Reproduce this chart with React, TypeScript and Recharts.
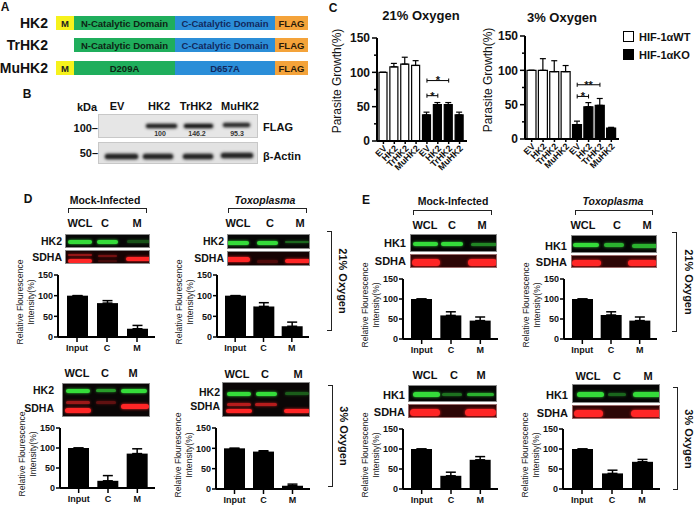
import React from 'react';
import { BarChart, Bar, XAxis, YAxis, ErrorBar, Cell, ReferenceLine } from 'recharts';

const FONT = "Arial, 'Liberation Sans', Helvetica, sans-serif";
const INK = '#111';

// ---- panel C: parasite growth (%) ----
const growthLabels = ['EV', 'HK2', 'TrHK2', 'MuHK2'];
const wt21 = [100, 108, 112, 110];
const wt21Err = [0, 5, 10, 7];
const ko21 = [38, 53, 53, 38];
const ko21Err = [4, 3, 3, 4];
const wt3 = [100, 100, 98, 98];
const wt3Err = [0, 17, 16, 9];
const ko3 = [21, 47, 49, 16];
const ko3Err = [5, 6, 10, 1];
const sig21 = [
  { from: 'EV', to: 'TrHK2', y: 88, mark: '*' },
  { from: 'EV', to: 'HK2', y: 66, mark: '*' },
];
const sig3 = [
  { from: 'EV', to: 'TrHK2', y: 79, mark: '**' },
  { from: 'EV', to: 'HK2', y: 62, mark: '*' },
];
const growthTicks = [0, 25, 50, 75, 100, 125, 150];
const growthLabelled = [0, 50, 100, 150];

// ---- panels D / E: relative fluorescence (%) ----
const fractions = ['Input', 'C', 'M'];
const fracTicks = [0, 50, 100, 150];
const dMock21 = [100, 82, 20];
const dMock21Err = [0, 6, 8];
const dToxo21 = [100, 74, 26];
const dToxo21Err = [0, 9, 10];
const dMock3 = [100, 18, 86];
const dMock3Err = [0, 13, 12];
const dToxo3 = [100, 92, 8];
const dToxo3Err = [0, 2, 4];
const eMock21 = [100, 59, 46];
const eMock21Err = [0, 9, 9];
const eToxo21 = [100, 60, 46];
const eToxo21Err = [0, 8, 9];
const eMock3 = [100, 33, 73];
const eMock3Err = [0, 9, 8];
const eToxo3 = [100, 39, 68];
const eToxo3Err = [0, 8, 6];

const AX = { stroke: '#000', strokeWidth: 2 };
const TL = { stroke: '#000', strokeWidth: 1.5 };

function Txt({ x, y, children, size = 11, weight = 700, align = 'center', italic = false, rotate = 0, color = INK, lh = 1 }: any) {
  const tx = align === 'center' ? '-50%' : align === 'right' ? '-100%' : '0';
  return (
    <div
      style={{
        position: 'absolute',
        left: x,
        top: y,
        transform: `translate(${tx},-50%)${rotate ? ` rotate(${rotate}deg)` : ''}`,
        fontSize: size,
        fontWeight: weight,
        fontStyle: italic ? 'italic' : 'normal',
        color,
        whiteSpace: 'nowrap',
        lineHeight: lh,
        textAlign: 'center',
      }}
    >
      {children}
    </div>
  );
}

type Band = { c: number; w: number; y: number; a: number; t: number; col?: string };
const GREEN = '#35dc3a';
const RED = '#ff2626';

function Blot({ x, y, w, h, bg, color, bands, border = '1px solid #8a8a8a', blur = 0.7 }: any) {
  return (
    <div style={{ position: 'absolute', left: x, top: y, width: w, height: h, background: bg, border, boxSizing: 'border-box', overflow: 'hidden' }}>
      {bands.map((b: Band, i: number) => {
        const col = b.col || color;
        return (
          <div
            key={i}
            style={{
              position: 'absolute',
              left: (b.c - b.w / 2) * w,
              width: b.w * w,
              top: b.y * h - b.t / 2,
              height: b.t,
              background: col,
              opacity: b.a,
              borderRadius: b.t,
              filter: `blur(${blur}px)`,
              boxShadow: `0 0 3px ${col}`,
            }}
          />
        );
      })}
    </div>
  );
}

// ---------- panel C chart ----------
type GrowthRow = { key: string; value: number; err: [number, number]; ko: boolean };

function buildGrowth(wt: number[], wtErr: number[], ko: number[], koErr: number[]): GrowthRow[] {
  const rows: GrowthRow[] = [];
  growthLabels.forEach((l, i) => rows.push({ key: `${l}|WT`, value: wt[i], err: [0, wtErr[i]], ko: false }));
  growthLabels.forEach((l, i) => rows.push({ key: `${l}|KO`, value: ko[i], err: [0, koErr[i]], ko: true }));
  return rows;
}

const GrowthTick = (props: any) => {
  const { x, y, payload } = props;
  const label = String(payload.value).split('|')[0];
  const ax = x + 4;
  const ay = y + 3;
  return (
    <text x={ax} y={ay} transform={`rotate(-45 ${ax} ${ay})`} textAnchor="end" fontSize={9} fontWeight={700} fill={INK} fontFamily={FONT}>
      {label}
    </text>
  );
};

// y tick with short minor marks between the labelled ones
const GrowthYTick = (props: any) => {
  const { x, y, payload } = props;
  const major = growthLabelled.includes(payload.value);
  const ax = x + 6; // axis line position (tickSize 4 + tickMargin 2)
  return (
    <g>
      <line x1={ax - (major ? 5 : 3)} x2={ax} y1={y} y2={y} stroke="#000" strokeWidth={1.5} />
      {major && (
        <text x={ax - 7} y={y} dy="0.36em" textAnchor="end" fontSize={12} fontWeight={700} fill={INK} fontFamily={FONT}>
          {payload.value}
        </text>
      )}
    </g>
  );
};

function GrowthChart({ axisX, plotTop, plotBottom, plotRight, rows, sig, barSize }: any) {
  const yW = 34;
  const mt = 6;
  const mr = 4;
  const xH = 44;
  const plotW = plotRight - axisX;
  const plotH = plotBottom - plotTop;
  const lines: any[] = [];
  sig.forEach((s: any, i: number) => {
    const a = `${s.from}|KO`;
    const b = `${s.to}|KO`;
    lines.push(
      <ReferenceLine
        key={`h${i}`}
        segment={[{ x: a, y: s.y }, { x: b, y: s.y }]}
        stroke="#000"
        strokeWidth={1}
        ifOverflow="visible"
        label={{ value: s.mark, position: 'center', fontSize: 11, fontWeight: 700, fill: INK }}
      />,
      <ReferenceLine key={`l${i}`} segment={[{ x: a, y: s.y - 3 }, { x: a, y: s.y + 3 }]} stroke="#000" strokeWidth={1} ifOverflow="visible" />,
      <ReferenceLine key={`r${i}`} segment={[{ x: b, y: s.y - 3 }, { x: b, y: s.y + 3 }]} stroke="#000" strokeWidth={1} ifOverflow="visible" />
    );
  });
  return (
    <div style={{ position: 'absolute', left: axisX - yW, top: plotTop - mt }}>
      <BarChart width={yW + plotW + mr} height={mt + plotH + xH} data={rows} margin={{ top: mt, right: mr, bottom: 0, left: 0 }}>
        <XAxis dataKey="key" interval={0} tick={<GrowthTick />} tickSize={3} height={xH} axisLine={AX} tickLine={TL} padding={{ left: 1, right: 2 }} />
        <YAxis
          type="number"
          domain={[0, 150]}
          ticks={growthTicks}
          interval={0}
          width={yW}
          tickSize={4}
          tickMargin={2}
          axisLine={AX}
          tickLine={false}
          tick={<GrowthYTick />}
        />
        <Bar dataKey="value" barSize={barSize} stroke="#000" strokeWidth={1.2} isAnimationActive={false}>
          {rows.map((r: GrowthRow) => (
            <Cell key={r.key} fill={r.ko ? '#000' : '#fff'} />
          ))}
          <ErrorBar dataKey="err" width={3} stroke="#000" strokeWidth={1.2} direction="y" isAnimationActive={false} />
        </Bar>
        {lines}
      </BarChart>
    </div>
  );
}

// ---------- panels D / E chart ----------
function FracChart({ axisX, plotTop, plotBottom, plotRight, values, errs }: any) {
  const yW = 26;
  const mt = 6;
  const mr = 3;
  const xH = 22;
  const plotW = plotRight - axisX;
  const plotH = plotBottom - plotTop;
  const rows = fractions.map((f, i) => ({ name: f, value: values[i], err: [0, errs[i]] }));
  return (
    <>
      <div style={{ position: 'absolute', left: axisX - yW, top: plotTop - mt }}>
        <BarChart width={yW + plotW + mr} height={mt + plotH + xH} data={rows} margin={{ top: mt, right: mr, bottom: 0, left: 0 }}>
          <XAxis
            dataKey="name"
            interval={0}
            tickSize={5}
            tickMargin={3}
            height={xH}
            padding={{ left: 4, right: 3 }}
            axisLine={AX}
            tickLine={TL}
            tick={{ fontSize: 9, fontWeight: 700, fill: INK, fontFamily: FONT }}
          />
          <YAxis
            type="number"
            domain={[0, 150]}
            ticks={fracTicks}
            interval={0}
            width={yW}
            tickSize={4}
            tickMargin={1}
            axisLine={AX}
            tickLine={TL}
            tick={{ fontSize: 9, fontWeight: 700, fill: INK, fontFamily: FONT }}
          />
          <Bar dataKey="value" fill="#000" barSize={21} isAnimationActive={false}>
            <ErrorBar dataKey="err" width={5} stroke="#000" strokeWidth={1.5} direction="y" isAnimationActive={false} />
          </Bar>
        </BarChart>
      </div>
      <Txt x={axisX - 32} y={(plotTop + plotBottom) / 2 - 4} size={8.6} weight={400} rotate={-90} lh="11px" color="#222">
        Relative Flourescence
        <br />
        Intensity(%)
      </Txt>
    </>
  );
}

function TopBracket({ x1, x2, y }: any) {
  return <div style={{ position: 'absolute', left: x1, top: y, width: x2 - x1, height: 5, borderTop: '1.5px solid #222', borderLeft: '1.5px solid #222', borderRight: '1.5px solid #222', boxSizing: 'border-box' }} />;
}

function SideBracket({ x, y1, y2, text, tx }: any) {
  return (
    <>
      <div style={{ position: 'absolute', left: x - 5, top: y1, width: 5, height: y2 - y1, borderTop: '1.5px solid #222', borderBottom: '1.5px solid #222', borderRight: '1.5px solid #222', boxSizing: 'border-box' }} />
      <Txt x={tx} y={(y1 + y2) / 2} size={11} rotate={90}>
        {text}
      </Txt>
    </>
  );
}

function Lanes({ y, xs }: any) {
  return (
    <>
      {['WCL', 'C', 'M'].map((l, i) => (
        <Txt key={l} x={xs[i]} y={y} size={11}>
          {l}
        </Txt>
      ))}
    </>
  );
}

const g = (c: number, w: number, y: number, a: number, t: number): Band => ({ c, w, y, a, t, col: GREEN });
const r = (c: number, w: number, y: number, a: number, t: number): Band => ({ c, w, y, a, t, col: RED });

// ---------- panel A ----------
const domainRows = [
  { name: 'HK2', m: true, n: 'N-Catalytic Domain', c: 'C-Catalytic Domain', y: 16 },
  { name: 'TrHK2', m: false, n: 'N-Catalytic Domain', c: 'C-Catalytic Domain', y: 38 },
  { name: 'MuHK2', m: true, n: 'D209A', c: 'D657A', y: 61 },
];

function Seg({ x, w, y, bg, color, children }: any) {
  return (
    <div style={{ position: 'absolute', left: x, top: y, width: w, height: 14, background: bg, color, fontSize: 9.5, fontWeight: 700, display: 'flex', alignItems: 'center', justifyContent: 'center', whiteSpace: 'nowrap' }}>
      {children}
    </div>
  );
}

export default function App() {
  return (
    <div style={{ position: 'fixed', left: 0, top: 0, width: 696, height: 508, background: '#fff', fontFamily: FONT, color: INK, overflow: 'hidden' }}>
      {/* ===== A ===== */}
      <Txt x={5} y={7} size={12}>A</Txt>
      {domainRows.map((d) => (
        <React.Fragment key={d.name}>
          <Txt x={48} y={d.y + 7} size={14} align="right">{d.name}</Txt>
          {d.m && <Seg x={56} w={18} y={d.y} bg="#f6f21c" color="#222">M</Seg>}
          <Seg x={74} w={101} y={d.y} bg="#1fae5c" color="#0d2414">{d.n}</Seg>
          <Seg x={175} w={100} y={d.y} bg="#2b8ed8" color="#12295e">{d.c}</Seg>
          <Seg x={275} w={33} y={d.y} bg="#f4a33a" color="#2a1a08">FLAG</Seg>
        </React.Fragment>
      ))}

      {/* ===== B ===== */}
      <Txt x={27} y={94} size={12}>B</Txt>
      <Txt x={87} y={107} size={11}>kDa</Txt>
      <Txt x={117} y={106} size={11}>EV</Txt>
      <Txt x={159} y={106} size={11}>HK2</Txt>
      <Txt x={196} y={106} size={11}>TrHK2</Txt>
      <Txt x={240} y={106} size={11}>MuHK2</Txt>
      <Blot
        x={98}
        y={114}
        w={160}
        h={24}
        bg="#e6e6e6"
        color="#1e1e1e"
        border="1px solid #c8c8c8"
        blur={0.8}
        bands={[
          { c: 0.39, w: 0.19, y: 0.45, a: 0.95, t: 4 },
          { c: 0.62, w: 0.18, y: 0.45, a: 1, t: 4.5 },
          { c: 0.86, w: 0.17, y: 0.42, a: 0.9, t: 4 },
        ]}
      />
      <Txt x={160} y={133} size={7} weight={700} color="#333">100</Txt>
      <Txt x={197} y={133} size={7} weight={700} color="#333">146.2</Txt>
      <Txt x={237} y={133} size={7} weight={700} color="#333">95.3</Txt>
      <Blot
        x={98}
        y={142}
        w={160}
        h={22}
        bg="#e2e2e2"
        color="#1e1e1e"
        border="1px solid #c8c8c8"
        blur={0.8}
        bands={[
          { c: 0.14, w: 0.21, y: 0.6, a: 0.95, t: 5 },
          { c: 0.37, w: 0.19, y: 0.6, a: 0.95, t: 5 },
          { c: 0.62, w: 0.19, y: 0.6, a: 0.95, t: 5 },
          { c: 0.86, w: 0.2, y: 0.58, a: 0.95, t: 5 },
        ]}
      />
      <Txt x={98} y={128} size={11} align="right">100–</Txt>
      <Txt x={98} y={153} size={11} align="right">50–</Txt>
      <Txt x={263} y={127} size={11} align="left">FLAG</Txt>
      <Txt x={263} y={156} size={11} align="left">β-Actin</Txt>

      {/* ===== C ===== */}
      <Txt x={333} y={8} size={12}>C</Txt>
      <Txt x={421} y={15} size={13}>21% Oxygen</Txt>
      <Txt x={562} y={17} size={13}>3% Oxygen</Txt>
      <Txt x={337} y={81} size={12} weight={400} rotate={-90}>Parasite Growth(%)</Txt>
      <Txt x={488} y={80} size={12} weight={400} rotate={-90}>Parasite Growth(%)</Txt>
      <GrowthChart axisX={377} plotTop={38} plotBottom={141} plotRight={467} rows={buildGrowth(wt21, wt21Err, ko21, ko21Err)} sig={sig21} barSize={8} />
      <GrowthChart axisX={525} plotTop={36} plotBottom={139} plotRight={619} rows={buildGrowth(wt3, wt3Err, ko3, ko3Err)} sig={sig3} barSize={9} />
      <div style={{ position: 'absolute', left: 623, top: 31, width: 11, height: 11, border: '1.5px solid #000', boxSizing: 'border-box', background: '#fff' }} />
      <div style={{ position: 'absolute', left: 623, top: 49, width: 11, height: 11, background: '#000' }} />
      <Txt x={639} y={37} size={11} align="left">HIF-1αWT</Txt>
      <Txt x={639} y={55} size={11} align="left">HIF-1αKO</Txt>

      {/* ===== D ===== */}
      <Txt x={28} y={199} size={12}>D</Txt>
      <Txt x={105} y={200} size={10.5}>Mock-Infected</Txt>
      <TopBracket x1={68} x2={147} y={208} />
      <Lanes y={223} xs={[80, 105, 137]} />
      <Txt x={62} y={241} size={10.5} align="right">HK2</Txt>
      <Txt x={62} y={257} size={10.5} align="right">SDHA</Txt>
      <Blot x={65} y={234} w={85} h={14} bg="#070707" color={GREEN} bands={[g(0.165, 0.29, 0.5, 1, 4), g(0.49, 0.25, 0.5, 1, 4), g(0.85, 0.27, 0.45, 0.35, 2.5)]} />
      <Blot x={65} y={250} w={85} h={14} bg="#160303" color={RED} bands={[r(0.165, 0.29, 0.3, 0.55, 2.5), r(0.165, 0.29, 0.7, 1, 4), r(0.49, 0.22, 0.35, 0.4, 2.5), r(0.49, 0.22, 0.72, 0.2, 2.5), r(0.85, 0.3, 0.6, 1, 4)]} />
      <FracChart axisX={58} plotTop={275} plotBottom={337} plotRight={155} values={dMock21} errs={dMock21Err} />

      <Txt x={265} y={200} size={10.5} italic>Toxoplasma</Txt>
      <TopBracket x1={228} x2={307} y={208} />
      <Lanes y={223} xs={[238, 270, 300]} />
      <Txt x={224} y={241} size={10.5} align="right">HK2</Txt>
      <Txt x={224} y={258} size={10.5} align="right">SDHA</Txt>
      <Blot x={227} y={234} w={83} h={15} bg="#070707" color={GREEN} bands={[g(0.12, 0.27, 0.5, 1, 4), g(0.48, 0.25, 0.5, 1, 4), g(0.83, 0.28, 0.45, 0.45, 2.5)]} />
      <Blot x={227} y={251} w={83} h={15} bg="#160303" color={RED} bands={[r(0.12, 0.3, 0.5, 1, 4.5), r(0.48, 0.25, 0.6, 0.25, 3), r(0.84, 0.3, 0.6, 1, 4)]} />
      <FracChart axisX={217} plotTop={275} plotBottom={337} plotRight={309} values={dToxo21} errs={dToxo21Err} />

      <SideBracket x={332} y1={231} y2={331} text="21% Oxygen" tx={342} />

      <Lanes y={373} xs={[77, 105, 133]} />
      <Txt x={54} y={390} size={10.5} align="right">HK2</Txt>
      <Txt x={54} y={408} size={10.5} align="right">SDHA</Txt>
      <Blot
        x={62}
        y={383}
        w={88}
        h={34}
        bg="#0a0606"
        color={GREEN}
        bands={[g(0.17, 0.27, 0.2, 1, 4), g(0.49, 0.22, 0.2, 0.7, 3), g(0.81, 0.3, 0.2, 1, 4), r(0.17, 0.28, 0.55, 0.6, 3), r(0.17, 0.3, 0.77, 1, 5), r(0.49, 0.22, 0.53, 0.35, 3), r(0.82, 0.32, 0.65, 1, 5)]}
      />
      <FracChart axisX={60} plotTop={428} plotBottom={488} plotRight={155} values={dMock3} errs={dMock3Err} />

      <Lanes y={374} xs={[237, 265, 298]} />
      <Txt x={220} y={392} size={10.5} align="right">HK2</Txt>
      <Txt x={220} y={406} size={10.5} align="right">SDHA</Txt>
      <Blot
        x={222}
        y={382}
        w={88}
        h={35}
        bg="#0a0606"
        color={GREEN}
        bands={[g(0.18, 0.27, 0.3, 1, 4), g(0.49, 0.24, 0.3, 1, 4), g(0.84, 0.27, 0.3, 0.4, 2.5), r(0.18, 0.28, 0.62, 0.7, 3), r(0.18, 0.3, 0.8, 1, 4.5), r(0.49, 0.25, 0.62, 0.7, 3), r(0.84, 0.3, 0.8, 1, 4.5)]}
      />
      <FracChart axisX={216} plotTop={428} plotBottom={489} plotRight={310} values={dToxo3} errs={dToxo3Err} />

      <SideBracket x={333} y1={385} y2={487} text="3% Oxygen" tx={343} />

      {/* ===== E ===== */}
      <Txt x={366} y={200} size={12}>E</Txt>
      <Txt x={453} y={201} size={10.5}>Mock-Infected</Txt>
      <TopBracket x1={413} x2={492} y={210} />
      <Lanes y={225} xs={[425, 452, 482]} />
      <Txt x={406} y={243} size={11} align="right">HK1</Txt>
      <Txt x={406} y={261} size={11} align="right">SDHA</Txt>
      <Blot x={410} y={234} w={87} h={18} bg="#050505" color={GREEN} bands={[g(0.17, 0.29, 0.5, 1, 4.5), g(0.47, 0.26, 0.5, 1, 4.5), g(0.84, 0.29, 0.55, 0.6, 3)]} />
      <Blot x={410} y={254} w={87} h={14} bg="#2e0606" color={RED} border="1px solid #9a6a6a" bands={[r(0.17, 0.32, 0.55, 1, 7), r(0.82, 0.34, 0.55, 1, 7)]} />
      <FracChart axisX={403} plotTop={279} plotBottom={339} plotRight={498} values={eMock21} errs={eMock21Err} />

      <Txt x={613} y={201} size={10.5} italic>Toxoplasma</Txt>
      <TopBracket x1={575} x2={653} y={210} />
      <Lanes y={225} xs={[583, 617, 647]} />
      <Txt x={567} y={246} size={11} align="right">HK1</Txt>
      <Txt x={567} y={262} size={11} align="right">SDHA</Txt>
      <Blot x={571} y={235} w={86} h={18} bg="#050505" color={GREEN} bands={[g(0.16, 0.3, 0.5, 1, 4.5), g(0.49, 0.24, 0.5, 0.8, 3.5), g(0.85, 0.3, 0.55, 0.8, 3.5)]} />
      <Blot x={571} y={255} w={86} h={13} bg="#2e0606" color={RED} border="1px solid #9a6a6a" bands={[r(0.17, 0.33, 0.55, 1, 6.5), r(0.82, 0.34, 0.55, 1, 6.5)]} />
      <FracChart axisX={564} plotTop={279} plotBottom={339} plotRight={657} values={eToxo21} errs={eToxo21Err} />

      <SideBracket x={677} y1={232} y2={332} text="21% Oxygen" tx={688} />

      <Lanes y={375} xs={[425, 454, 481]} />
      <Txt x={405} y={395} size={11} align="right">HK1</Txt>
      <Txt x={405} y={412} size={11} align="right">SDHA</Txt>
      <Blot x={408} y={385} w={89} h={17} bg="#050505" color={GREEN} bands={[g(0.2, 0.3, 0.5, 1, 4.5), g(0.48, 0.22, 0.5, 0.5, 3), g(0.8, 0.3, 0.5, 0.8, 3.5)]} />
      <Blot x={408} y={404} w={89} h={14} bg="#2e0606" color={RED} border="1px solid #9a6a6a" bands={[r(0.18, 0.33, 0.5, 1, 7), r(0.8, 0.35, 0.5, 1, 7)]} />
      <FracChart axisX={403} plotTop={429} plotBottom={489} plotRight={498} values={eMock3} errs={eMock3Err} />

      <Lanes y={376} xs={[588, 617, 648]} />
      <Txt x={568} y={395} size={11} align="right">HK1</Txt>
      <Txt x={568} y={413} size={11} align="right">SDHA</Txt>
      <Blot x={572} y={384} w={88} h={19} bg="#050505" color={GREEN} bands={[g(0.2, 0.3, 0.5, 1, 4.5), g(0.5, 0.2, 0.5, 0.45, 3), g(0.84, 0.32, 0.5, 1, 4.5)]} />
      <Blot x={572} y={405} w={88} h={14} bg="#2e0606" color={RED} border="1px solid #9a6a6a" bands={[r(0.18, 0.33, 0.5, 1, 7), r(0.84, 0.36, 0.5, 1, 7)]} />
      <FracChart axisX={563} plotTop={429} plotBottom={489} plotRight={660} values={eToxo3} errs={eToxo3Err} />

      <SideBracket x={678} y1={387} y2={490} text="3% Oxygen" tx={688} />
    </div>
  );
}
